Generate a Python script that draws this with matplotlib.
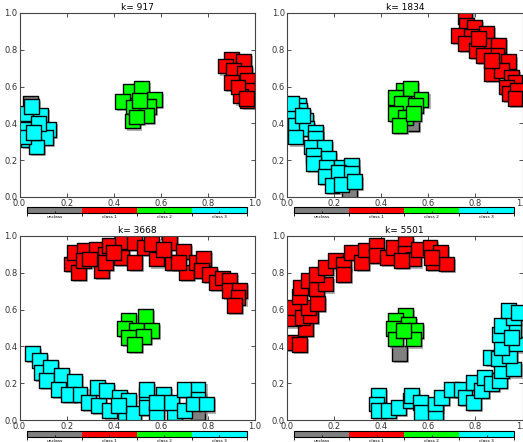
import numpy as np
import matplotlib
matplotlib.use('Agg')
import matplotlib.pyplot as plt
import matplotlib.colors as colors
import matplotlib.patheffects as pe
import matplotlib.cm as cm

TITLES = ['k= 917', 'k= 1834', 'k= 3668', 'k= 5501']
CLASS_NAMES = ['unclass', 'class 1', 'class 2', 'class 3']
CLASS_COLORS = ['gray', 'red', 'lime', 'cyan']

# points per panel: (x list, y list) for gray, red, green, cyan
gray_x = [[0.045], [0.264, 0.53], [0.758], [0.476]]
gray_y = [[0.51], [0.027, 0.40], [0.042], [0.362]]

red_x = [
    [0.90, 0.953, 0.873, 0.907, 0.956, 0.90, 0.97, 0.97, 0.97, 0.94, 0.928, 0.963],
    [0.756, 0.763, 0.798, 0.727, 0.784, 0.847, 0.756, 0.86, 0.805, 0.897, 0.89, 0.833,
     0.939, 0.869, 0.91, 0.953, 0.968, 0.932, 0.946, 0.98, 0.968, 0.812, 0.869],
    [0.222, 0.251, 0.234, 0.277, 0.271, 0.328, 0.349, 0.367, 0.367, 0.384, 0.434, 0.436,
     0.49, 0.49, 0.532, 0.561, 0.582, 0.636, 0.65, 0.695, 0.709, 0.751, 0.782, 0.773,
     0.806, 0.836, 0.861, 0.893, 0.893, 0.935, 0.928, 0.914, 0.674, 0.61, 0.398, 0.299],
    [0.028, 0.052, 0.078, 0.028, 0.028, 0.064, 0.099, 0.092, 0.131, 0.052, 0.056, 0.092,
     0.127, 0.162, 0.127, 0.162, 0.205, 0.24, 0.24, 0.273, 0.318, 0.332, 0.381, 0.381,
     0.425, 0.452, 0.504, 0.504, 0.537, 0.558, 0.607, 0.621, 0.653, 0.678, 0.614, 0.487],
]
red_y = [
    [0.746, 0.739, 0.712, 0.688, 0.67, 0.62, 0.634, 0.58, 0.525, 0.549, 0.598, 0.534],
    [0.978, 0.933, 0.924, 0.879, 0.87, 0.888, 0.833, 0.824, 0.797, 0.824, 0.77, 0.77,
     0.734, 0.67, 0.688, 0.652, 0.625, 0.598, 0.562, 0.58, 0.534, 0.862, 0.743],
    [0.848, 0.803, 0.911, 0.92, 0.866, 0.929, 0.812, 0.902, 0.857, 0.947, 0.884, 0.971,
     0.966, 0.857, 0.938, 0.957, 0.875, 0.966, 0.857, 0.917, 0.803, 0.857, 0.88, 0.812,
     0.793, 0.748, 0.772, 0.757, 0.703, 0.703, 0.667, 0.621, 0.857, 0.929, 0.911, 0.875],
    [0.422, 0.409, 0.495, 0.549, 0.612, 0.558, 0.567, 0.612, 0.634, 0.67, 0.721, 0.757,
     0.712, 0.739, 0.793, 0.83, 0.866, 0.848, 0.793, 0.911, 0.857, 0.924, 0.947, 0.893,
     0.884, 0.938, 0.957, 0.906, 0.875, 0.929, 0.938, 0.857, 0.911, 0.848, 0.884, 0.866],
]

green_x = [
    [0.469, 0.518, 0.438, 0.483, 0.572, 0.547, 0.54, 0.479, 0.511, 0.497],
    [0.494, 0.523, 0.459, 0.487, 0.569, 0.544, 0.459, 0.504, 0.476, 0.537],
    [0.462, 0.535, 0.444, 0.497, 0.561, 0.462, 0.528, 0.487],
    [0.504, 0.459, 0.452, 0.516, 0.547, 0.459, 0.537, 0.494],
]
green_y = [
    [0.576, 0.589, 0.52, 0.489, 0.531, 0.493, 0.444, 0.413, 0.525, 0.435],
    [0.58, 0.589, 0.543, 0.511, 0.531, 0.498, 0.453, 0.431, 0.39, 0.453],
    [0.54, 0.563, 0.495, 0.486, 0.486, 0.446, 0.455, 0.409],
    [0.567, 0.54, 0.498, 0.522, 0.486, 0.44, 0.44, 0.486],
]

cyan_x = [
    [0.031, 0.088, 0.031, 0.123, 0.038, 0.112, 0.071, 0.052, 0.08, 0.017, 0.06],
    [0.047, 0.052, 0.028, 0.079, 0.035, 0.082, 0.035, 0.12, 0.12, 0.103, 0.159, 0.113,
     0.177, 0.113, 0.169, 0.233, 0.275, 0.162, 0.219, 0.275, 0.191, 0.233, 0.287, 0.021, 0.064],
    [0.056, 0.085, 0.093, 0.13, 0.116, 0.179, 0.165, 0.232, 0.208, 0.257, 0.292, 0.33,
     0.335, 0.37, 0.384, 0.426, 0.448, 0.462, 0.483, 0.537, 0.539, 0.582, 0.613, 0.659,
     0.645, 0.699, 0.702, 0.758, 0.758, 0.737, 0.794, 0.539, 0.42, 0.582],
    [0.388, 0.381, 0.388, 0.431, 0.473, 0.523, 0.53, 0.565, 0.572, 0.629, 0.629, 0.657,
     0.699, 0.742, 0.756, 0.791, 0.791, 0.826, 0.84, 0.869, 0.904, 0.911, 0.866, 0.897,
     0.96, 0.946, 0.911, 0.975, 0.904, 0.96, 0.911, 0.96, 0.939, 0.982, 0.953],
]
cyan_y = [
    [0.453, 0.444, 0.366, 0.366, 0.312, 0.322, 0.272, 0.493, 0.40, 0.326, 0.35],
    [0.498, 0.471, 0.444, 0.417, 0.39, 0.371, 0.326, 0.353, 0.317, 0.272, 0.272, 0.226,
     0.208, 0.181, 0.163, 0.163, 0.172, 0.109, 0.136, 0.127, 0.063, 0.069, 0.082, 0.507, 0.444],
    [0.359, 0.322, 0.259, 0.286, 0.214, 0.241, 0.168, 0.21, 0.141, 0.141, 0.096, 0.178,
     0.078, 0.159, 0.051, 0.123, 0.042, 0.105, 0.033, 0.132, 0.069, 0.033, 0.138, 0.042,
     0.096, 0.168, 0.051, 0.168, 0.114, 0.087, 0.087, 0.168, 0.078, 0.096],
    [0.132, 0.087, 0.051, 0.051, 0.069, 0.105, 0.132, 0.096, 0.042, 0.042, 0.087, 0.123,
     0.168, 0.168, 0.123, 0.096, 0.205, 0.159, 0.232, 0.196, 0.214, 0.268, 0.341, 0.332,
     0.277, 0.35, 0.395, 0.413, 0.467, 0.486, 0.513, 0.558, 0.594, 0.585, 0.449],
]

W, H = 523, 442
fig = plt.figure(figsize=(W / 100, H / 100), dpi=100)

# axes boxes in pixels: left, top
ax_boxes = [(19.5, 13), (287, 13), (19.5, 236), (287, 236)]
cb_boxes = [(27, 207), (294, 207), (27, 431), (294, 431)]
AX_W, AX_H = 235.5, 184
CB_W, CB_H = 220, 6

cmap = colors.ListedColormap(CLASS_COLORS)
norm = colors.BoundaryNorm(np.arange(-0.5, 4.5, 1), cmap.N)
shadow = [pe.SimplePatchShadow(offset=(1.5, -1.5), shadow_rgbFace='gray', alpha=0.6),
          pe.Normal()]

for i in range(4):
    lx, ty = ax_boxes[i]
    ax = fig.add_axes([lx / W, 1 - (ty + AX_H) / H, AX_W / W, AX_H / H])
    groups = [(gray_x[i], gray_y[i], 'gray'),
              (red_x[i], red_y[i], 'red'),
              (green_x[i], green_y[i], 'lime'),
              (cyan_x[i], cyan_y[i], 'cyan')]
    for gx, gy, c in groups:
        ax.scatter(gx, gy, s=115, marker='s', c=c, edgecolors='black',
                   linewidths=1.0, path_effects=shadow, zorder=2)
    ax.set_xlim(0, 1)
    ax.set_ylim(0, 1)
    ax.set_xticks(np.arange(0, 1.01, 0.2))
    ax.set_yticks(np.arange(0, 1.01, 0.2))
    ax.tick_params(direction='in', top=True, right=True, labelsize=6,
                   length=3, width=0.6, colors='#333333', pad=1.5)
    for sp in ax.spines.values():
        sp.set_color('#444444')
        sp.set_linewidth(0.8)
    ax.set_title(TITLES[i], fontsize=6.5, pad=2)

    cx, cy = cb_boxes[i]
    cax = fig.add_axes([cx / W, 1 - (cy + CB_H) / H, CB_W / W, CB_H / H])
    sm = cm.ScalarMappable(norm=norm, cmap=cmap)
    cb = fig.colorbar(sm, cax=cax, orientation='horizontal', ticks=[0, 1, 2, 3])
    cb.ax.set_xticklabels(CLASS_NAMES)
    cb.ax.tick_params(labelsize=3.2, length=1.5, width=0.6, direction='in', pad=1.5)
    cb.outline.set_linewidth(0.8)

fig.savefig('out.png', dpi=100)
